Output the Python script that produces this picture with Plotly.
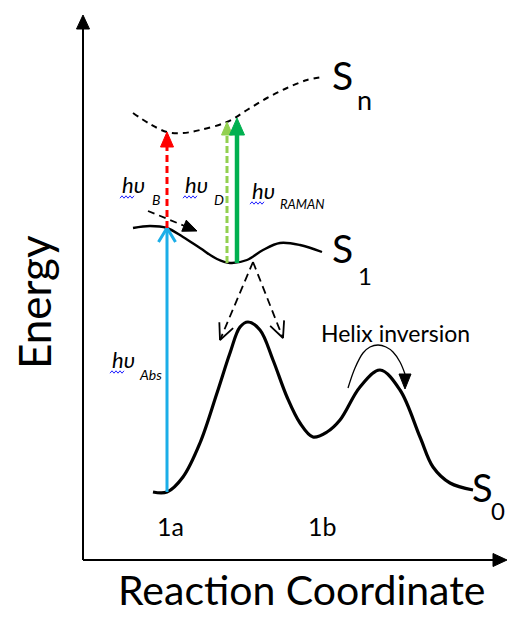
import math
import plotly.graph_objects as go

FONT = "Lato, 'DejaVu Sans', sans-serif"

# Potential energy curves (x = reaction coordinate, e = energy; arbitrary units)
s0_x = [70, 84, 100, 117, 134, 147, 157, 165, 177, 190, 204, 217, 230, 244, 257, 277, 297, 317, 337, 350, 367, 390]
s0_e = [68, 68, 83, 117, 167, 207, 233, 238, 230, 200, 163, 137, 123, 128, 140, 173, 190, 170, 123, 93, 77, 70]
s1_x = [50, 67, 84, 100, 117, 134, 147, 164, 180, 197, 217, 239]
s1_e = [332, 334, 332, 323, 312, 301, 297, 300, 310, 317, 315, 308]
sn_x = [50, 67, 84, 100, 117, 144, 164, 184, 204, 224, 239]
sn_e = [447, 436, 428, 427, 430, 438, 450, 462, 472, 480, 483]

# Vertical transitions: x position, start energy, end energy
abs_t = (84, 68, 332)
b_t = (84, 332, 428)
d_t = (144, 297, 438)
raman_t = (154, 297, 442)

# Relaxation arrows on S1 (start -> tip)
cross_arrow = ((65, 349), (114, 329))
relax_start = (170, 298)
relax_left_tip = (137, 220)
relax_right_tip = (200, 222)

# Helix inversion curved arrow
helix_x = [265, 272, 280, 287, 295, 303, 310, 317, 322]
helix_e = [172, 192, 207, 213, 215, 213, 208, 198, 186]
helix_tip = (322, 171)

# Axes extents
x_axis_end = 424
e_axis_end = 545

BLUE = "#1BAEE8"
RED = "#FF0000"
LGREEN = "#92D050"
GREEN = "#00B050"
BLACK = "#000000"

fig = go.Figure()


def line(xs, ys, color=BLACK, width=2, dash=None, shape="linear"):
    fig.add_trace(go.Scatter(x=xs, y=ys, mode="lines", hoverinfo="skip",
                             line=dict(color=color, width=width, dash=dash, shape=shape,
                                       smoothing=1.0)))


def head(tip, frm, length, width, color, filled=True, lw=2):
    dx, dy = tip[0] - frm[0], tip[1] - frm[1]
    n = math.hypot(dx, dy)
    ux, uy = dx / n, dy / n
    bx, by = tip[0] - ux * length, tip[1] - uy * length
    px, py = -uy, ux
    p1 = (bx + px * width / 2, by + py * width / 2)
    p2 = (bx - px * width / 2, by - py * width / 2)
    if filled:
        fig.add_trace(go.Scatter(x=[tip[0], p1[0], p2[0], tip[0]], y=[tip[1], p1[1], p2[1], tip[1]],
                                 mode="lines", fill="toself", fillcolor=color, hoverinfo="skip",
                                 line=dict(color=color, width=1)))
    else:
        line([p1[0], tip[0], p2[0]], [p1[1], tip[1], p2[1]], color=color, width=lw)
    return (bx, by)


def vertical_arrow(t, color, width, dash, hlen, hwid, filled=True):
    x, e0, e1 = t
    base = head((x, e1), (x, e0), hlen, hwid, color, filled=filled, lw=width)
    end = base[1] if filled else e1
    line([x, x], [e0, end], color=color, width=width, dash=dash)


def wavy(x0, e0, length=15):
    xs, ys = [], []
    k = 0
    x = x0
    while x <= x0 + length:
        xs.append(x)
        ys.append(e0 + (1.2 if k % 2 else -1.2))
        x += 2
        k += 1
    line(xs, ys, color="#2020FF", width=1)


# Axes
line([0, 0], [0, e_axis_end - 13], width=2)
head((0, e_axis_end), (0, 0), 14, 13, BLACK)
line([0, x_axis_end - 13], [0, 0], width=2)
head((x_axis_end, 0), (0, 0), 14, 13, BLACK)

# Curves
line(s0_x, s0_e, width=3.2, shape="spline")
line(s1_x, s1_e, width=2.4, shape="spline")
line(sn_x, sn_e, width=2, dash="6px,5px", shape="spline")

# Transitions
vertical_arrow(abs_t, BLUE, 3, None, 14, 17, filled=False)
vertical_arrow(b_t, RED, 3, "7px,4px", 15, 13)
vertical_arrow(d_t, LGREEN, 3, "7px,3px", 13, 11)
vertical_arrow(raman_t, GREEN, 4.5, None, 17, 15)

# Crossing arrow
(cs, ct) = cross_arrow
b = head(ct, cs, 14, 12, BLACK)
line([cs[0], b[0]], [cs[1], b[1]], width=1.8, dash="7px,5px")

# Relaxation arrows
for tip in (relax_left_tip, relax_right_tip):
    line([relax_start[0], tip[0]], [relax_start[1], tip[1]], width=1.8, dash="8px,5px")
    head(tip, relax_start, 16, 15, BLACK, filled=False, lw=1.8)

# Helix inversion arrow
line(helix_x, helix_e, width=1.3, shape="spline")
head(helix_tip, (helix_x[-1], helix_e[-1]), 15, 12, BLACK)

# Wavy underlines (spell-check marks)
wavy(37, 363)
wavy(100, 363)
wavy(167, 357)
wavy(27, 188)

ann = []


def txt(x, y, s, size, xanchor="center", yanchor="middle", angle=0, italic=False):
    if italic:
        s = "<i>" + s + "</i>"
    ann.append(dict(x=x, y=y, text=s, showarrow=False, xanchor=xanchor, yanchor=yanchor,
                    textangle=angle, font=dict(family=FONT, size=size, color=BLACK)))


txt(-49, 258, "Energy", 44, angle=-90)
txt(218, -29, "Reaction Coordinate", 41)
txt(272, 485, "S", 39, xanchor="right")
txt(272, 461, "n", 27, xanchor="left")
txt(272, 312, "S", 39, xanchor="right")
txt(273, 285, "1", 24, xanchor="left")
txt(412, 73, "S", 38, xanchor="right")
txt(424, 50, "0", 24, xanchor="right")
txt(87, 34, "1a", 25)
txt(239, 34, "1b", 25)
txt(312, 227, "Helix inversion", 23)

txt(37, 376, "hυ", 22, xanchor="left", italic=True)
txt(67, 361, "B", 14, xanchor="left", italic=True)
txt(100, 376, "hυ", 22, xanchor="left", italic=True)
txt(129, 361, "D", 14, xanchor="left", italic=True)
txt(167, 370, "hυ", 22, xanchor="left", italic=True)
txt(195, 356, "RAMAN", 13, xanchor="left", italic=True)
txt(27, 201, "hυ", 22, xanchor="left", italic=True)
txt(54, 186, "Abs", 14, xanchor="left", italic=True)

# The page body adds an 8 px margin; size and shift so the drawing lands in the visible window.
fig.update_layout(
    width=500, height=609,
    margin=dict(l=0, r=0, t=0, b=0),
    paper_bgcolor="white", plot_bgcolor="white",
    showlegend=False,
    annotations=ann,
    xaxis=dict(range=[-75, 425], visible=False, fixedrange=True),
    yaxis=dict(range=[-57, 552], visible=False, fixedrange=True),
)

fig.write_html("out.html")
